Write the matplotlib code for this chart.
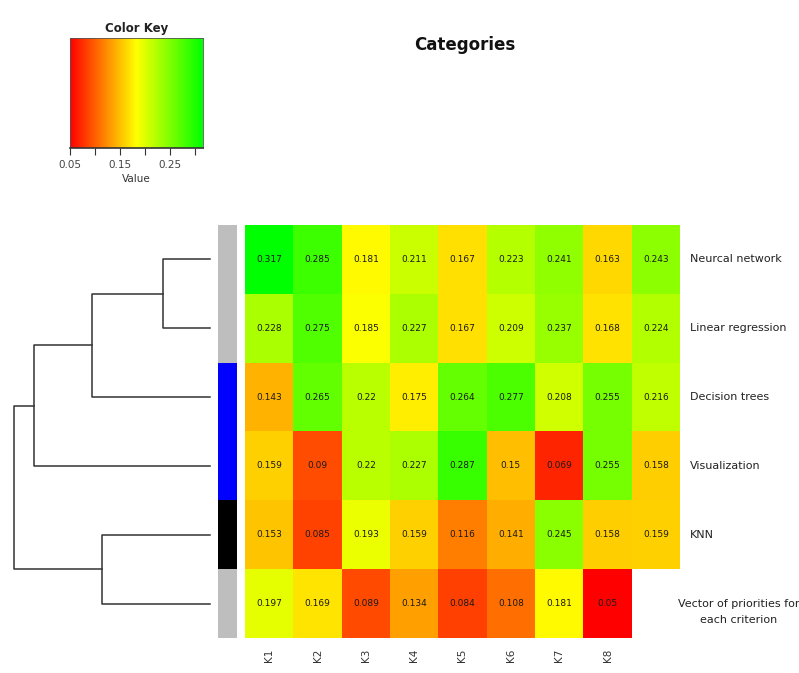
import numpy as np
import matplotlib
matplotlib.use("Agg")
import matplotlib.pyplot as plt
from matplotlib.colors import LinearSegmentedColormap, Normalize

# heatmap data (rows top to bottom, columns K1..K9)
rows = ["Neurcal network", "Linear regression", "Decision trees", "Visualization",
        "KNN", "Vector of priorities for\neach criterion"]
col_labels = ["K1", "K2", "K3", "K4", "K5", "K6", "K7", "K8", ""]
values = np.array([
    [0.317, 0.285, 0.181, 0.211, 0.167, 0.223, 0.241, 0.163, 0.243],
    [0.228, 0.275, 0.185, 0.227, 0.167, 0.209, 0.237, 0.168, 0.224],
    [0.143, 0.265, 0.22, 0.175, 0.264, 0.277, 0.208, 0.255, 0.216],
    [0.159, 0.09, 0.22, 0.227, 0.287, 0.15, 0.069, 0.255, 0.158],
    [0.153, 0.085, 0.193, 0.159, 0.116, 0.141, 0.245, 0.158, 0.159],
    [0.197, 0.169, 0.089, 0.134, 0.084, 0.108, 0.181, 0.05, np.nan],
])
row_side_colors = ["#bebebe", "#bebebe", "#0000ff", "#0000ff", "#000000", "#bebebe"]

# dendrogram merges: (left member, right member, height); members >= 100 refer to earlier merges
merges = [(0, 1, 0.24), (100, 2, 0.60), (101, 3, 0.90), (4, 5, 0.55), (102, 103, 1.0)]

cmap = LinearSegmentedColormap.from_list("ryg", ["#ff0000", "#ffff00", "#00ff00"])
vmin, vmax = 0.05, 0.317
norm = Normalize(vmin, vmax)

W, H = 799, 673
fig = plt.figure(figsize=(W / 100, H / 100), dpi=100)


def box(x0, y0, x1, y1):
    return [x0 / W, 1 - y1 / H, (x1 - x0) / W, (y1 - y0) / H]


# main heatmap
ax = fig.add_axes(box(245, 225, 680, 638))
data = np.ma.masked_invalid(values)
ax.pcolormesh(np.arange(values.shape[1] + 1) - 0.5, np.arange(values.shape[0] + 1) - 0.5,
              data, cmap=cmap, norm=norm)
ax.set_xlim(-0.5, values.shape[1] - 0.5)
ax.set_ylim(values.shape[0] - 0.5, -0.5)
for i in range(values.shape[0]):
    for j in range(values.shape[1]):
        if not np.isnan(values[i, j]):
            ax.text(j, i, f"{values[i, j]:g}", ha="center", va="center",
                    fontsize=6.5, color="#1a1a1a")
ax.set_xticks(range(len(col_labels)))
ax.set_xticklabels(col_labels, rotation=90, fontsize=7.5, color="#333333")
ax.tick_params(length=0, pad=8)
ax.set_yticks([])
for s in ax.spines.values():
    s.set_visible(False)
for i, name in enumerate(rows):
    if "\n" in name:
        ax.text(values.shape[1] - 0.5 + 1.22, i + 0.12, name, ha="center", va="center",
                fontsize=8, color="#222222", multialignment="center", linespacing=1.7)
    else:
        ax.text(values.shape[1] - 0.5 + 0.2, i, name, ha="left", va="center",
                fontsize=8, color="#222222")

# row side colour bar
axs = fig.add_axes(box(218, 225, 237, 638))
for i, c in enumerate(row_side_colors):
    axs.axhspan(i - 0.5, i + 0.5, color=c, lw=0)
axs.set_ylim(len(rows) - 0.5, -0.5)
axs.set_xlim(0, 1)
axs.axis("off")

# row dendrogram
axd = fig.add_axes(box(0, 225, 215, 638))
pos = {i: (float(i), 0.0) for i in range(len(rows))}
for k, (a, b, h) in enumerate(merges):
    ya, ha_ = pos[a]
    yb, hb = pos[b]
    axd.plot([ha_, h, h, hb], [ya, ya, yb, yb], color="#333333", lw=1.1)
    pos[100 + k] = ((ya + yb) / 2, h)
axd.set_ylim(len(rows) - 0.5, -0.5)
axd.set_xlim(210 / 196, -5 / 196)
axd.axis("off")

# colour key
axk = fig.add_axes(box(70, 38, 203, 148))
grad = np.linspace(vmin, vmax, 256).reshape(1, -1)
axk.imshow(grad, aspect="auto", cmap=cmap, norm=norm, extent=[vmin, vmax, 0, 1])
axk.set_xlim(vmin, vmax)
axk.set_yticks([])
axk.set_xticks([0.05, 0.10, 0.15, 0.20, 0.25, 0.30])
axk.set_xticklabels(["0.05", "", "0.15", "", "0.25", ""], fontsize=7.5, color="#444444")
axk.tick_params(axis="x", length=5, color="#333333")
for s in axk.spines.values():
    s.set_color("#555555")
    s.set_linewidth(0.6)
axk.spines["bottom"].set_linewidth(1.2)
axk.spines["bottom"].set_color("#333333")
axk.set_xlabel("Value", fontsize=7.5, color="#333333", labelpad=3)
axk.set_title("Color Key", fontsize=8.5, fontweight="bold", color="#222222", pad=4)

fig.text(465 / W, 1 - 45 / H, "Categories", ha="center", va="center",
         fontsize=12, fontweight="bold", color="#111111")

fig.savefig("out.png", dpi=100, facecolor="white")
